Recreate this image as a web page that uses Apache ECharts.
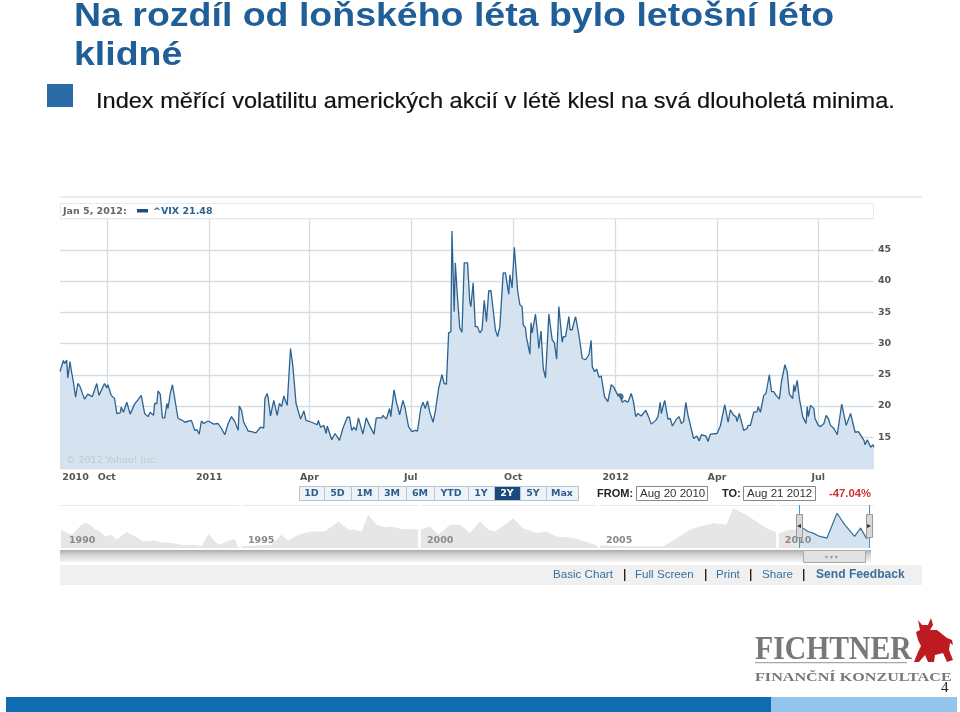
<!DOCTYPE html>
<html>
<head>
<meta charset="utf-8">
<title>VIX</title>
<style>
  html, body { margin: 0; padding: 0; background: #fff; }
  #chart { width: 960px; height: 712px; }
</style>
</head>
<body>
<div id="chart"></div>
<script src="https://cdn.jsdelivr.net/npm/echarts@6/dist/echarts.min.js"></script>
<script>
// days counted from Aug 20 2010
const vixDays = [0,3,4,6,7,9,10,12,14,16,18,22,25,27,29,33,35,40,42,43,46,49,51,54,55,57,60,63,67,73,76,79,81,84,85,87,88,90,92,94,96,97,99,100,101,106,110,112,118,121,123,125,127,129,133,138,142,145,148,151,154,157,160,161,163,165,169,172,176,180,183,184,186,187,189,192,193,195,197,199,201,204,207,209,212,216,219,221,226,231,232,234,237,239,240,244,247,251,254,258,260,262,264,266,268,272,275,278,282,284,289,290,293,296,297,300,302,305,308,310,313,316,319,321,324,326,328,330,332,335,337,340,343,345,347,349,351,352,354,355,357,359,360,361,363,366,368,369,371,373,375,377,379,381,383,385,387,389,391,393,395,398,400,403,404,406,408,411,413,415,416,418,419,422,423,424,427,429,430,432,434,436,439,442,444,446,448,451,452,454,457,458,460,461,463,466,469,472,475,477,478,480,482,484,486,489,492,495,497,498,501,503,505,507,510,513,515,517,519,522,526,528,531,535,537,539,540,543,546,548,550,554,556,558,560,562,564,569,572,574,576,578,580,582,584,590,593,597,598,600,602,605,607,608,610,614,617,618,620,623,626,627,629,632,634,637,639,641,643,646,648,649,651,653,655,658,659,660,662,664,667,668,670,671,672,674,677,678,681,683,686,688,690,692,695,698,702,706,710,711,714,717,722,723,725,726,728,730,731];
const vixValues = [25.5,27.3,26.8,27.3,24.5,27.1,25.8,23.9,21.4,23.6,23.1,21.1,21.9,21.7,21.5,23.6,21.7,23.6,22.9,23.4,21.7,21.2,18.8,18.9,19.8,19.0,20.6,18.7,20.3,21.7,18.8,18.3,19.0,18.5,20.4,20.4,22.4,21.9,18.1,18.1,20.4,19.6,22.0,21.9,23.4,18.0,17.7,17.4,17.7,16.1,16.2,15.5,17.6,17.2,17.6,17.1,17.2,16.4,15.4,17.2,18.3,17.5,16.1,20.0,19.3,17.4,16.0,15.9,15.7,16.6,16.5,21.2,22.0,21.2,18.4,20.9,20.7,18.5,20.4,19.9,21.6,20.1,29.2,26.6,20.4,17.9,19.2,17.7,17.4,17.0,17.7,16.6,16.9,15.6,16.8,14.6,15.6,14.5,16.4,18.2,18.2,16.1,16.6,16.1,18.1,15.5,18.1,16.9,15.5,18.1,18.1,18.5,17.9,19.6,18.3,22.6,20.7,18.6,20.9,19.6,16.7,15.9,16.1,16.0,19.6,20.6,19.6,20.8,19.1,17.4,19.1,22.8,25.0,23.6,23.5,31.7,31.9,48.0,35.1,42.9,37.3,32.5,32.7,31.8,42.9,42.9,36.7,35.9,39.7,32.7,32.7,31.7,32.2,36.9,33.5,38.4,38.5,35.4,32.2,31.1,32.7,41.3,41.3,37.9,41.0,38.9,45.4,38.4,36.2,35.9,33.0,32.5,30.9,28.3,33.3,31.7,34.7,31.4,29.2,32.0,26.0,24.5,34.7,30.6,30.1,27.5,35.9,30.2,31.1,31.1,34.3,32.2,32.2,33.0,34.3,31.4,27.6,27.4,28.2,30.5,26.3,25.5,25.9,24.6,24.8,21.5,20.7,23.4,23.1,23.4,21.7,21.48,20.6,20.9,20.6,22.0,20.7,18.3,18.8,18.4,19.3,18.5,17.1,17.7,18.3,20.6,18.8,20.9,17.9,18.0,16.8,18.0,18.3,17.2,17.5,20.6,18.5,14.8,15.2,14.4,15.4,15.3,15.2,14.3,15.5,15.6,16.8,20.2,20.0,17.4,19.4,18.5,18.3,17.5,18.8,16.1,16.4,16.9,16.9,19.0,19.1,19.9,19.0,21.7,22.0,25.0,22.3,22.3,21.7,21.1,24.0,24.2,26.6,25.5,21.9,21.2,23.4,22.3,24.1,21.2,18.3,18.1,17.2,19.9,18.3,20.1,19.6,18.0,16.9,16.7,17.2,18.5,18.0,16.9,16.4,15.4,20.3,16.9,18.8,18.8,15.8,15.9,14.5,13.8,14.6,14.5,13.4,13.8,13.4];
const hoverDay = 503;
const hoverValue = 21.48;

const xTickDays = [42,134,224,315,407,499,590,681];
const xLabelDays = [14,42,134,224,315,407,499,590,681];
const xLabels = ['2010','Oct','2011','Apr','Jul','Oct','2012','Apr','Jul'];

// overview strip below the chart
const overviewYears = [1990.00,1990.30,1990.53,1990.67,1990.81,1990.95,1991.09,1991.23,1991.42,1991.55,1991.83,1992.07,1992.30,1992.63,1992.81,1993.09,1993.46,1993.74,1993.93,1994.12,1994.30,1994.44,1994.67,1994.86,1994.95,1995.05,1995.88,1996.16,1996.35,1996.63,1997.00,1997.37,1997.75,1998.03,1998.21,1998.40,1998.58,1998.82,1999.05,1999.24,1999.52,1999.93,2000.03,2000.31,2000.54,2000.87,2001.15,2001.42,2001.70,2001.94,2002.12,2002.40,2002.63,2002.91,2003.28,2003.56,2003.84,2004.31,2004.96,2005.89,2006.82,2007.05,2007.57,2007.85,2008.22,2008.59,2008.78,2009.06,2009.43,2009.71,2009.94,2010.08,2010.36,2010.62];
const overviewValues = [37.5,30,42.5,48.5,45,38.5,35,27.5,30,22.5,34,27.5,20,21.5,18.5,17.5,14,15,12.5,31.5,20,15,21,23.5,11,12.5,15,30,21.5,30,35,35,50,37.5,37.5,35,60,45,41.5,42.5,38.5,38.5,37.5,42.5,30,45,45,32.5,50,37.5,35,45,55,40,32.5,35,27.5,25,14,12.5,12.5,20,37.5,42.5,47.5,45,70,62.5,50,40,35,32.5,37.5,37.5];
const rangeYears = [2010.62,2010.73,2010.87,2011.01,2011.20,2011.40,2011.68,2011.90,2012.17,2012.34,2012.50,2012.58];
const rangeValues = [45,40,35,32.5,27.5,25,62.5,45,27.5,40,25,26.5];
const overviewTickYears = [1990,1995,2000,2005,2010];

const rangeButtons = ['1D','5D','1M','3M','6M','YTD','1Y','2Y','5Y','Max'];
const rangeEdges = [299,324,351,378,406,434,468,494,520,546,578];
const activeButton = '2Y';
const footerLinks = [['Basic Chart',553,'normal 11.6px'],['Full Screen',635,'normal 11.6px'],['Print',716,'normal 11.6px'],['Share',762,'normal 11.6px'],['Send Feedback',816,'bold 12.1px']];
const footerSeparators = [624,705,750,803];

const sans = '"Liberation Sans", Arial, sans-serif';
const small = '"DejaVu Sans", Verdana, sans-serif';
const titleColor = '#1f5e97';

function label(text, x, y, font, fill, extra) {
  return { type: 'text', x: x, y: y, z: 20, silent: true,
    style: Object.assign({ text: text, font: font, fill: fill, textVerticalAlign: 'middle' }, extra || {}) };
}
function box(x, y, w, h, fill, stroke, z) {
  return { type: 'rect', z: z || 1, silent: true, shape: { x: x, y: y, width: w, height: h },
    style: { fill: fill, stroke: stroke || null, lineWidth: 1 } };
}
// the slide's text is a little wider than the installed fonts
function wide(el, scaleX) {
  el.scaleX = scaleX;
  return el;
}

const graphics = [
  wide(label('Na rozdíl od loňského léta bylo letošní léto', 74, 17, 'bold 33px ' + sans, titleColor), 1.136),
  wide(label('klidné', 74, 56, 'bold 33px ' + sans, titleColor), 1.136),
  box(47, 84, 26, 23, '#2b6ca8'),
  wide(label('Index měřící volatilitu amerických akcií v létě klesl na svá dlouholetá minima.', 96, 102, '22px ' + sans, '#111111', { stroke: '#111111', lineWidth: 0.2 }), 1.071),

  box(60, 196.5, 862, 1, '#dcdcdc'),
  box(60.5, 203.5, 813, 15, '#ffffff', '#e6eaee'),
  label('Jan 5, 2012:', 63, 211.5, 'bold 9.5px ' + small, '#666666'),
  box(137, 209, 11, 3.5, '#1c4f80'),
  label('^VIX 21.48', 153, 211.5, 'bold 9.5px ' + small, '#2a6090'),
  label('© 2012 Yahoo! Inc.', 66, 461, '9.5px ' + small, '#bccad6'),

  box(60, 505, 814, 0.8, '#e4e4e4'),
  label('FROM:', 597, 494, 'bold 11px ' + sans, '#222222'),
  box(636.5, 486.5, 71, 14, '#ffffff', '#888888'),
  label('Aug 20 2010', 640, 494, '11.5px ' + sans, '#333333'),
  label('TO:', 722, 494, 'bold 11px ' + sans, '#222222'),
  box(743.5, 486.5, 72, 14, '#ffffff', '#888888'),
  label('Aug 21 2012', 747, 494, '11.5px ' + sans, '#333333'),
  label('-47.04%', 829, 494, 'bold 11.3px ' + sans, '#cc3333'),

  // scrollbar under the overview
  { type: 'rect', z: 1, silent: true, shape: { x: 60, y: 550, width: 811, height: 12 },
    style: { fill: new echarts.graphic.LinearGradient(0, 0, 0, 1, [
      { offset: 0, color: '#ababab' }, { offset: 0.4, color: '#d4d4d4' }, { offset: 1, color: '#f4f4f4' }]) } },
  box(803.5, 550.5, 62, 12, '#e2e2e2', '#aaaaaa', 2),
  label('▾ ▾ ▾', 825, 557, '6px ' + small, '#999999'),

  // handles of the selected range
  box(796.5, 514.5, 6, 23, '#d8d8d8', '#999999', 12),
  box(866.5, 514.5, 6, 23, '#d8d8d8', '#999999', 12),
  label('◂', 797, 526, '8px ' + small, '#333333'),
  label('▸', 867, 526, '8px ' + small, '#333333'),

  box(60, 565, 862, 20, '#f0f0f0'),

  // logo
  wide(label('FICHTNER', 755, 650, 'bold 33px "Liberation Serif", serif', '#77787a'), 0.9),
  box(755, 662, 152, 1.2, '#a8a8a8'),
  wide(label('FINANČNÍ KONZULTACE', 755, 678, 'bold 12.5px "Liberation Serif", serif', '#77787a'), 1.29),
  { type: 'polygon', z: 20, silent: true,
    shape: { points: [[918,620],[922,625],[928,625],[931,618],[933,625],[930,630],[937,630],[947,638],[952,640],[953,645],[950,643],[949,650],[953,660],[947,662],[943,653],[935,655],[934,662],[928,662],[925,655],[919,662],[914,662],[918,652],[921,646],[918,640],[916,632],[920,630]] },
    style: { fill: '#bd1a22' } },
  label('4', 941, 688, '15px "Liberation Serif", serif', '#222222'),

  box(6, 697, 765, 15, '#0f6cb0'),
  box(771, 697, 186, 15, '#93c4ec')
];

rangeButtons.forEach(function (name, i) {
  const x0 = rangeEdges[i], x1 = rangeEdges[i + 1], on = name === activeButton;
  graphics.push(box(x0 + 0.5, 486.5, x1 - x0, 14, on ? '#1b4a7d' : '#eef3f8', '#b4c5d3'));
  graphics.push(label(name, (x0 + x1) / 2, 494, 'bold 9.5px ' + small, on ? '#ffffff' : '#2e5f8c', { textAlign: 'center' }));
});
footerLinks.forEach(function (l) {
  graphics.push(label(l[0], l[1], 575, l[2] + ' ' + sans, '#3a6f9c'));
});
footerSeparators.forEach(function (x) {
  graphics.push(box(x, 569, 1.4, 12, '#222222', null, 3));
});

const chart = echarts.init(document.getElementById('chart'));
chart.setOption({
  animation: false,
  backgroundColor: '#ffffff',
  grid: [
    { left: 60, width: 814, top: 218.5, height: 250, containLabel: false },
    { left: 61, width: 810, top: 505, height: 43, containLabel: false }
  ],
  xAxis: [
    {
      gridIndex: 0, type: 'value', min: 0, max: 731,
      axisLine: { show: false },
      axisTick: { show: false, customValues: xTickDays },
      splitLine: { show: true, lineStyle: { color: '#d6dee5', width: 1.3 } },
      axisLabel: {
        customValues: xLabelDays,
        margin: 4,
        color: '#555555',
        fontFamily: small,
        fontWeight: 'bold',
        fontSize: 9.5,
        formatter: function (v) { return xLabels[xLabelDays.indexOf(v)]; }
      }
    },
    {
      gridIndex: 1, type: 'value', min: 1990, max: 2012.63, z: 6,
      axisLine: { show: false },
      axisTick: { show: false, customValues: overviewTickYears },
      splitLine: { show: false },
      axisLabel: {
        customValues: overviewTickYears,
        inside: true,
        margin: 2,
        align: 'left',
        padding: [0, 0, 0, 8],
        color: '#8a8a8a',
        fontFamily: small,
        fontWeight: 'bold',
        fontSize: 9.5,
        formatter: function (v) { return String(v); }
      }
    }
  ],
  yAxis: [
    {
      gridIndex: 0, type: 'value', position: 'right', min: 10, max: 50, interval: 5,
      axisLine: { show: false },
      axisTick: { show: false },
      splitLine: { lineStyle: { color: '#d6dee5', width: 1.3 } },
      axisLabel: {
        margin: 4,
        color: '#555555',
        fontFamily: small,
        fontWeight: 'bold',
        fontSize: 9.5,
        formatter: function (v) { return v === 10 || v === 50 ? '' : v; }
      }
    },
    {
      gridIndex: 1, type: 'value', min: 10, max: 75,
      axisLine: { show: false }, axisTick: { show: false },
      axisLabel: { show: false }, splitLine: { show: false }
    }
  ],
  series: [
    {
      type: 'line', xAxisIndex: 0, yAxisIndex: 0, showSymbol: false,
      data: vixDays.map(function (d, i) { return [d, vixValues[i]]; }),
      lineStyle: { color: '#2c6292', width: 1.3 },
      areaStyle: { color: '#d4e3ef', opacity: 1 }
    },
    {
      type: 'scatter', xAxisIndex: 0, yAxisIndex: 0, symbolSize: 7,
      data: [[hoverDay, hoverValue]],
      itemStyle: { color: '#1b4f80' }
    },
    {
      type: 'line', xAxisIndex: 1, yAxisIndex: 1, showSymbol: false,
      data: overviewYears.map(function (y, i) { return [y, overviewValues[i]]; }),
      lineStyle: { width: 0 },
      areaStyle: { color: '#e6e6e6', opacity: 1 },
      markLine: {
        silent: true, symbol: 'none', label: { show: false },
        lineStyle: { color: '#ffffff', type: 'solid', width: 2.5 },
        data: overviewTickYears.slice(1).map(function (y) { return { xAxis: y }; })
      }
    },
    {
      type: 'line', xAxisIndex: 1, yAxisIndex: 1, showSymbol: false, z: 4,
      data: rangeYears.map(function (y, i) { return [y, rangeValues[i]]; }),
      lineStyle: { color: '#3a6d99', width: 1.2 },
      areaStyle: { color: '#d4e3ef', opacity: 1 },
      markLine: {
        silent: true, symbol: 'none', label: { show: false },
        lineStyle: { color: '#3a9ad0', type: 'solid', width: 1 },
        data: [{ xAxis: rangeYears[0] }, { xAxis: rangeYears[rangeYears.length - 1] }]
      }
    }
  ],
  graphic: graphics
});
</script>
</body>
</html>
